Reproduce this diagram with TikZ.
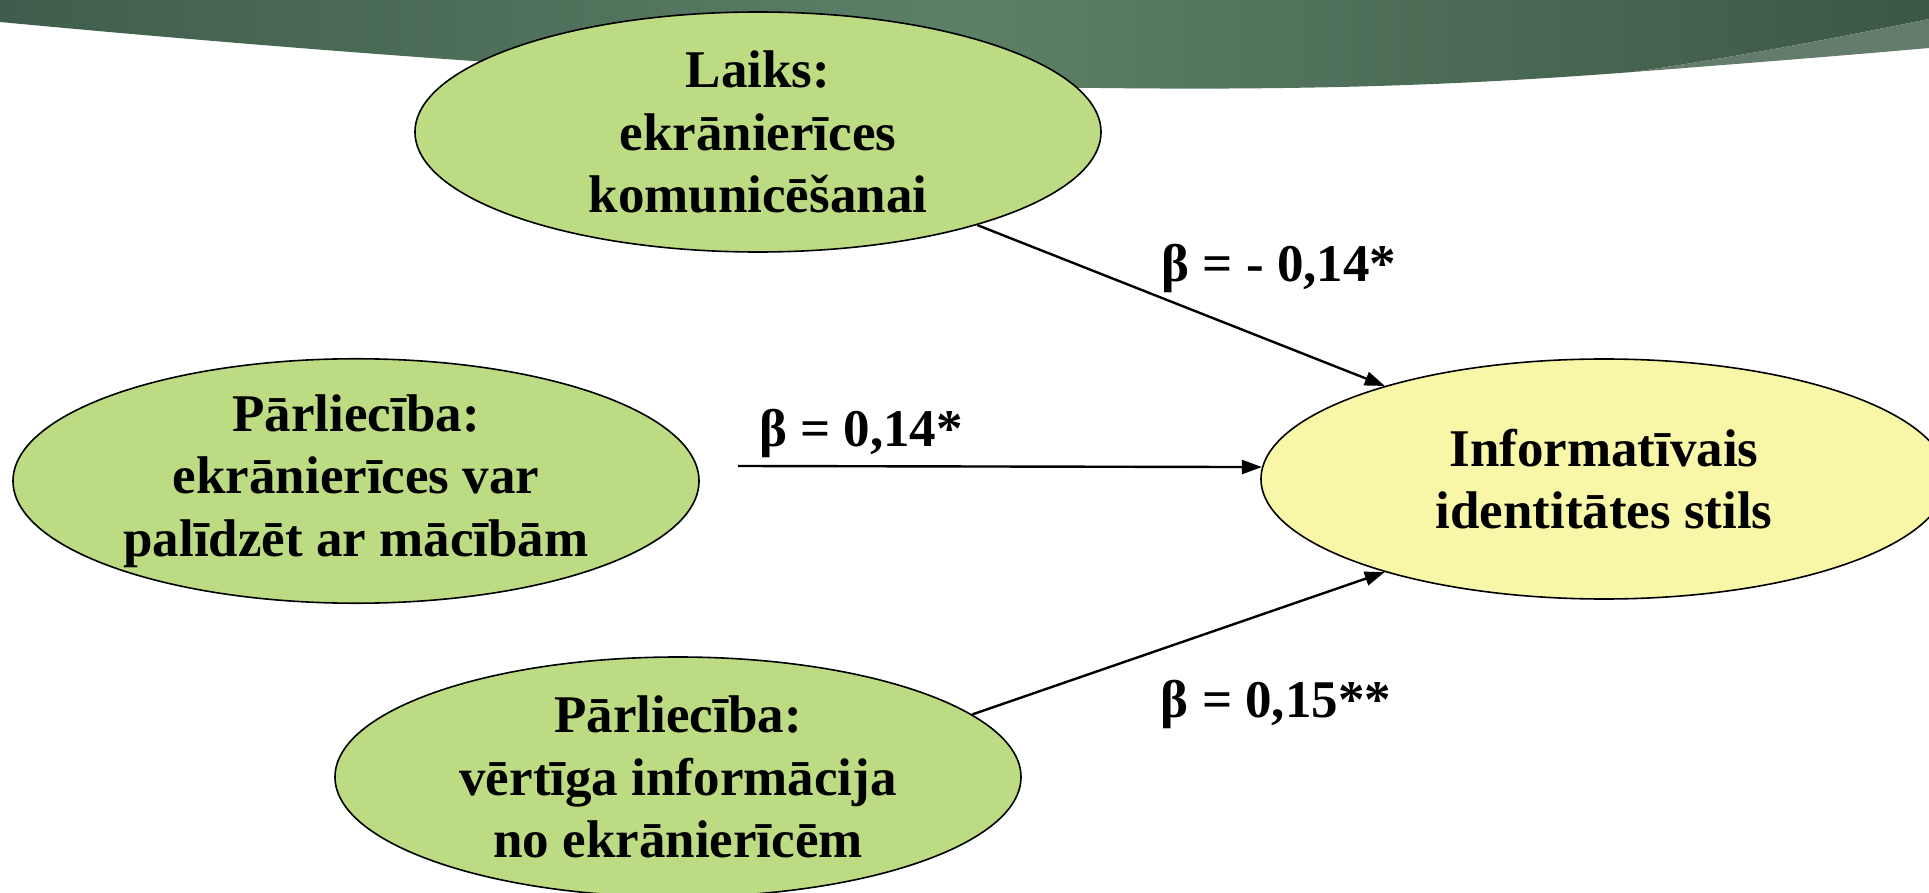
\documentclass[tikz,border=0pt]{standalone}
\usepackage{fontspec}
\setmainfont{Liberation Serif}
\usetikzlibrary{shapes.geometric,arrows.meta}
\definecolor{bandDark}{RGB}{63,93,76}
\definecolor{bandLight}{RGB}{92,128,102}
\definecolor{bandRight}{RGB}{59,87,70}
\definecolor{bandStrip}{RGB}{99,124,108}
\definecolor{ovalGreen}{RGB}{189,219,131}
\definecolor{ovalYellow}{RGB}{248,247,167}
\begin{document}
\begin{tikzpicture}[x=0.5pt, y=-0.5pt, line join=round, >={Triangle[length=10pt,width=7pt]},
		font=\bfseries\fontsize{26.5}{31.2}\selectfont,
		oval/.style={ellipse, draw, line width=0.8pt, inner sep=0pt, minimum width=343pt, minimum height=120pt, align=center},
		link/.style={->, line width=1.2pt}]
	\useasboundingbox (0,0) rectangle (1929,893);
	% banner
	\shade[left color=bandDark, right color=bandRight, middle color=bandLight]
	(0,0) -- (0,22) .. controls (350,55) and (800,88) .. (1100,88)
	.. controls (1350,91) and (1500,82) .. (1633,72)
	.. controls (1750,55) and (1850,35) .. (1929,19) -- (1929,0) -- cycle;
	\fill[bandStrip] (1633,72) .. controls (1750,63) and (1850,55) .. (1929,48) -- (1929,19)
	.. controls (1850,35) and (1750,55) .. (1633,72) -- cycle;
	% ovals
	\path
	(758,132) node[oval, fill=ovalGreen] (laiks) {Laiks:\\ekrānierīces\\komunicēšanai}
	(356,481) node[oval, fill=ovalGreen] (palidzet) {Pārliecība:\\ekrānierīces var\\palīdzēt ar mācībām}
	(678,777) node[oval, fill=ovalGreen] (vertiga) {Pārliecība:\\vērtīga informācija\\no ekrānierīcēm}
	(1604,479) node[oval, fill=ovalYellow] (stils) {Informatīvais\\identitātes stils}
	(738,466) coordinate (m)
	;
	\foreach \a/\b in {laiks.-23/stils.157, m/stils.178, vertiga.12/stils.-157}
	\draw[link] (\a) -- (\b);
	% coefficients
	\node (b1) at (1279,268) {β = - 0,14*};
	\node (b2) at (861,433) {β = 0,14*};
	\node (b3) at (1276,704) {β = 0,15**};
\end{tikzpicture}
\end{document}
